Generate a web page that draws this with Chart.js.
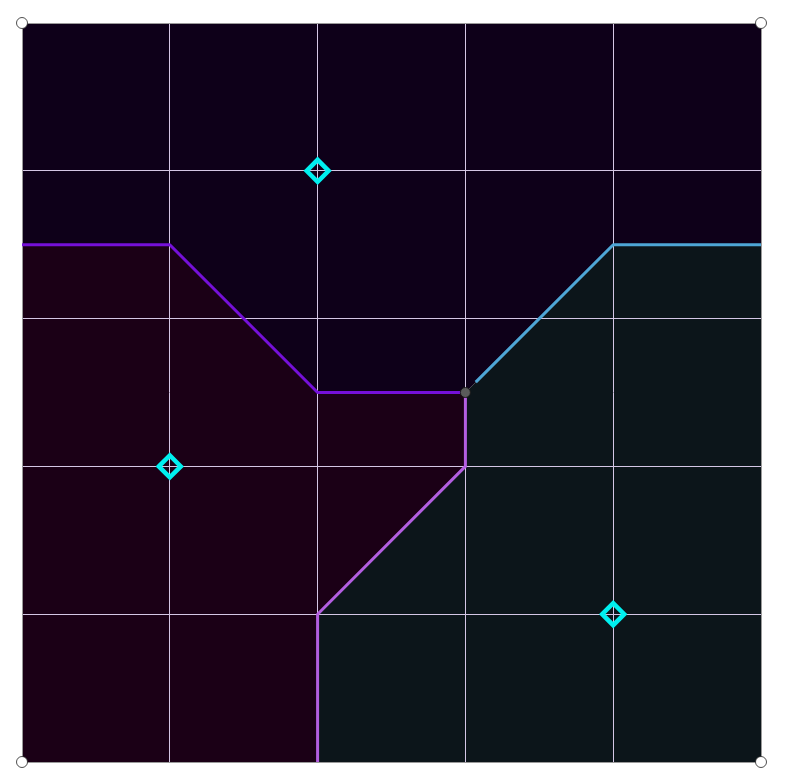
<!DOCTYPE html>
<html>
<head>
<meta charset="utf-8">
<script src="https://cdn.jsdelivr.net/npm/chart.js@4.4.1/dist/chart.umd.min.js"></script>
<style>
  html, body { margin: 0; padding: 0; background: #ffffff; }
  #chart { display: block; }
</style>
</head>
<body>
<canvas id="chart" width="791" height="783"></canvas>
<script>
// Grid runs 0..5 on both axes
const axisMin = 0;
const axisMax = 5;

// Sites (diamond markers)
const siteX = [2, 1, 4];
const siteY = [4, 2, 1];

// Region boundaries (polylines)
const purpleEdgeX = [0, 1, 2, 3];
const purpleEdgeY = [3.5, 3.5, 2.5, 2.5];
const violetEdgeX = [3, 3, 2, 2];
const violetEdgeY = [2.5, 2, 1, 0];
const blueEdgeX = [3.07, 4, 5];
const blueEdgeY = [2.57, 3.5, 3.5];

// Shaded regions (closed polygons)
const topRegionX = [0, 5, 5, 4, 3, 2, 1, 0, 0];
const topRegionY = [5, 5, 3.5, 3.5, 2.5, 2.5, 3.5, 3.5, 5];
const leftRegionX = [0, 1, 2, 3, 3, 2, 2, 0, 0];
const leftRegionY = [3.5, 3.5, 2.5, 2.5, 2, 1, 0, 0, 3.5];
const rightRegionX = [3, 4, 5, 5, 2, 2, 3, 3];
const rightRegionY = [2.5, 3.5, 3.5, 0, 0, 1, 2, 2.5];

// Vertex where the three edges meet
const vertexX = [3];
const vertexY = [2.5];

// Corner markers
const cornerX = [0, 5, 0, 5];
const cornerY = [0, 0, 5, 5];

function toPoints(xs, ys) {
    return xs.map((x, i) => ({ x: x, y: ys[i] }));
}

function regionDataset(xs, ys, color) {
    return {
        data: toPoints(xs, ys),
        showLine: true,
        fill: 'shape',
        backgroundColor: color,
        borderWidth: 0,
        borderColor: color,
        pointRadius: 0,
        pointHoverRadius: 0,
        order: 10
    };
}

function edgeDataset(xs, ys, color, order) {
    return {
        data: toPoints(xs, ys),
        showLine: true,
        fill: false,
        borderColor: color,
        borderWidth: 3,
        borderJoinStyle: 'round',
        pointRadius: 0,
        pointHoverRadius: 0,
        order: order
    };
}

const ctx = document.getElementById('chart');

// lower "order" is drawn on top
new Chart(ctx, {
    type: 'scatter',
    data: {
        datasets: [
            regionDataset(topRegionX, topRegionY, '#0e0019'),
            regionDataset(leftRegionX, leftRegionY, '#1b0016'),
            regionDataset(rightRegionX, rightRegionY, '#0c151a'),
            edgeDataset(purpleEdgeX, purpleEdgeY, '#7510d8', 5),
            edgeDataset(violetEdgeX, violetEdgeY, '#b35ee0', 4),
            edgeDataset(blueEdgeX, blueEdgeY, '#4ea6d6', 3),
            {
                data: toPoints(vertexX, vertexY),
                pointRadius: 5,
                pointBackgroundColor: '#5a5a5a',
                pointBorderColor: '#1a1a1a',
                pointBorderWidth: 1,
                order: 1
            },
            {
                data: toPoints(siteX, siteY),
                pointStyle: 'rectRot',
                pointRadius: 11,
                pointBackgroundColor: 'rgba(0,0,0,0)',
                pointBorderColor: '#00f0f0',
                pointBorderWidth: 4.5,
                order: 1
            },
            {
                data: toPoints(cornerX, cornerY),
                clip: false,
                pointRadius: 5.5,
                pointBackgroundColor: '#ffffff',
                pointBorderColor: '#222222',
                pointBorderWidth: 0.8,
                order: 0
            }
        ]
    },
    options: {
        responsive: false,
        animation: false,
        layout: {
            padding: { left: 22, top: 23, right: 30, bottom: 21 }
        },
        plugins: {
            legend: { display: false },
            tooltip: { enabled: false },
            filler: { drawTime: 'beforeDraw' }
        },
        scales: {
            x: {
                type: 'linear',
                min: axisMin,
                max: axisMax,
                ticks: { display: false, stepSize: 1 },
                grid: { color: '#d4c6e4', lineWidth: 1, drawTicks: false },
                border: { color: '#9a9a9a', width: 1 }
            },
            y: {
                type: 'linear',
                min: axisMin,
                max: axisMax,
                ticks: { display: false, stepSize: 1 },
                grid: { color: '#d4c6e4', lineWidth: 1, drawTicks: false },
                border: { color: '#9a9a9a', width: 1 }
            },
            x2: {
                type: 'linear',
                position: 'top',
                min: axisMin,
                max: axisMax,
                ticks: { display: false },
                grid: { display: false, drawTicks: false },
                border: { color: '#9a9a9a', width: 1 }
            },
            y2: {
                type: 'linear',
                position: 'right',
                min: axisMin,
                max: axisMax,
                ticks: { display: false },
                grid: { display: false, drawTicks: false },
                border: { color: '#9a9a9a', width: 1 }
            }
        }
    }
});
</script>
</body>
</html>
